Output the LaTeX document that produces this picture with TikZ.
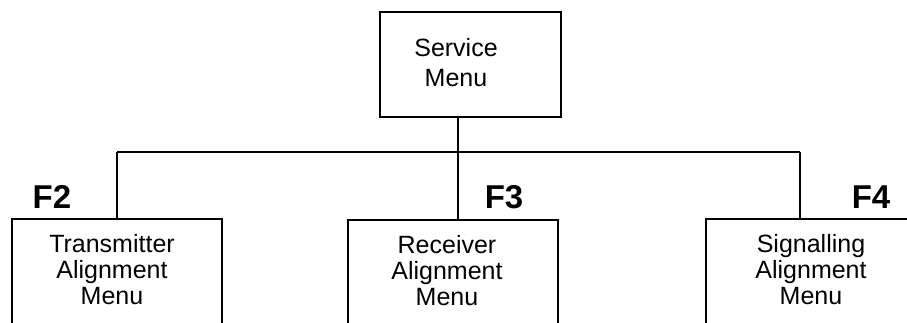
\documentclass[tikz,border=0pt]{standalone}
\usepackage{fontspec}
\setmainfont{Liberation Sans}
\begin{document}
\begin{tikzpicture}[x=1pt,y=-1pt,
  boxstyle/.style={draw,line width=2.6pt,rectangle,inner sep=0pt},
  wire/.style={line width=2.2pt},
  menutext/.style={align=center,inner sep=0pt,font=\fontsize{25}{26}\selectfont},
  fkey/.style={inner sep=0pt,font=\fontsize{33}{36}\selectfont\bfseries}]
\useasboundingbox (0,0) rectangle (907,322);
\clip (0,0) rectangle (907,322);
% boxes
\node[boxstyle,minimum width=181pt,minimum height=105pt] (svc) at (470.5,64.5) {};
\node[boxstyle,minimum width=210pt,minimum height=140pt] (tx) at (117,289) {};
\node[boxstyle,minimum width=210pt,minimum height=140pt] (rx) at (453,290) {};
\node[boxstyle,minimum width=210pt,minimum height=140pt] (sg) at (811,289) {};
% texts
\node[menutext,font=\fontsize{25}{30}\selectfont] (svct) at (456,63) {Service\\Menu};
\node[menutext] (txt) at (112,270) {Transmitter\\Alignment\\Menu};
\node[menutext] (rxt) at (447,271) {Receiver\\Alignment\\Menu};
\node[menutext] (sgt) at (811,270) {Signalling\\Alignment\\Menu};
% function keys
\node[fkey] (f2) at (52,197) {F2};
\node[fkey] (f3) at (504,197) {F3};
\node[fkey] (f4) at (871,197) {F4};
% connectors
\coordinate (busL) at (117,152);
\coordinate (busM) at (458,152);
\coordinate (busR) at (800,152);
\draw[wire] (busL) -- (busR);
\draw[wire] (svc.south -| busM) -- (busM);
\draw[wire] (busL) -- (busL |- tx.north);
\draw[wire] (busM) -- (busM |- rx.north);
\draw[wire] (busR) -- (busR |- sg.north);
\end{tikzpicture}
\end{document}
